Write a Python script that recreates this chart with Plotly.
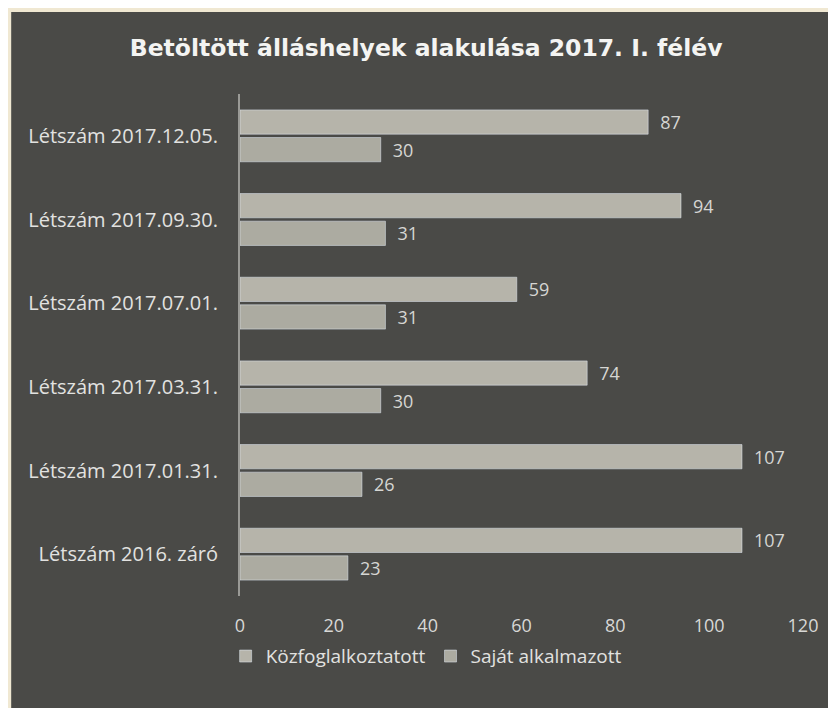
import plotly.graph_objects as go

categories = ["Létszám 2016. záró", "Létszám 2017.01.31.", "Létszám 2017.03.31.",
              "Létszám 2017.07.01.", "Létszám 2017.09.30.", "Létszám 2017.12.05."]
kozfoglalkoztatott = [107, 107, 74, 59, 94, 87]
sajat_alkalmazott = [23, 26, 30, 31, 31, 30]
x_ticks = [0, 20, 40, 60, 80, 100, 120]

txt_color = "#e2e2e0"
dark_bg = "#4a4a47"
base_font = "Open Sans, Lato, sans-serif"

fig = go.Figure()

# Saját first so it is drawn as the lower bar of each pair
fig.add_trace(go.Bar(
    y=categories, x=sajat_alkalmazott, orientation="h",
    name="Saját alkalmazott",
    marker=dict(color="#acaba1"),
    text=sajat_alkalmazott, texttemplate="\u2002%{x}", textposition="outside",
    textfont=dict(color="#d6d6d3", size=18),
    cliponaxis=False,
))
fig.add_trace(go.Bar(
    y=categories, x=kozfoglalkoztatott, orientation="h",
    name="Közfoglalkoztatott",
    marker=dict(color="#b6b4aa"),
    text=kozfoglalkoztatott, texttemplate="\u2002%{x}", textposition="outside",
    textfont=dict(color="#d6d6d3", size=18),
    cliponaxis=False,
))

# dark chart panel on the cream paper
fig.add_shape(type="rect", xref="paper", yref="paper",
              x0=-0.4064, x1=1.1, y0=-0.3, y1=1.1633,
              fillcolor=dark_bg, line=dict(width=0), layer="below")

fig.update_layout(
    width=828, height=700,
    paper_bgcolor="#f0e8d2",
    plot_bgcolor="rgba(0,0,0,0)",
    margin=dict(l=232, r=33, t=86, b=112, autoexpand=False),
    barmode="group", bargap=0.34, bargroupgap=0.12,
    font=dict(family=base_font, color=txt_color, size=18),
    title=dict(text="<b>Betöltött álláshelyek alakulása 2017. I. félév</b>",
               x=0.505, xanchor="center", y=0.943, yanchor="middle",
               font=dict(family="DejaVu Sans, sans-serif", size=23.5, color="#f4f4f2")),
    legend=dict(orientation="h", xref="container", yref="container",
                x=0.505, xanchor="center", y=0.074, yanchor="middle",
                traceorder="reversed", bgcolor="rgba(0,0,0,0)",
                font=dict(size=19, color=txt_color), itemwidth=30),
    showlegend=True,
)
fig.update_xaxes(range=[0, 120], tickvals=x_ticks, showgrid=False, zeroline=False,
                 showline=False, ticks="", automargin=False,
                 tickfont=dict(size=18, color="#d8d8d6"), ticklabelstandoff=17)
fig.update_yaxes(categoryorder="array", categoryarray=categories, automargin=False,
                 showgrid=False, showline=True, linecolor="#9a9a96", linewidth=2,
                 ticks="", ticklabelstandoff=16,
                 tickfont=dict(size=20, color=txt_color))

fig.write_html("out.html")
